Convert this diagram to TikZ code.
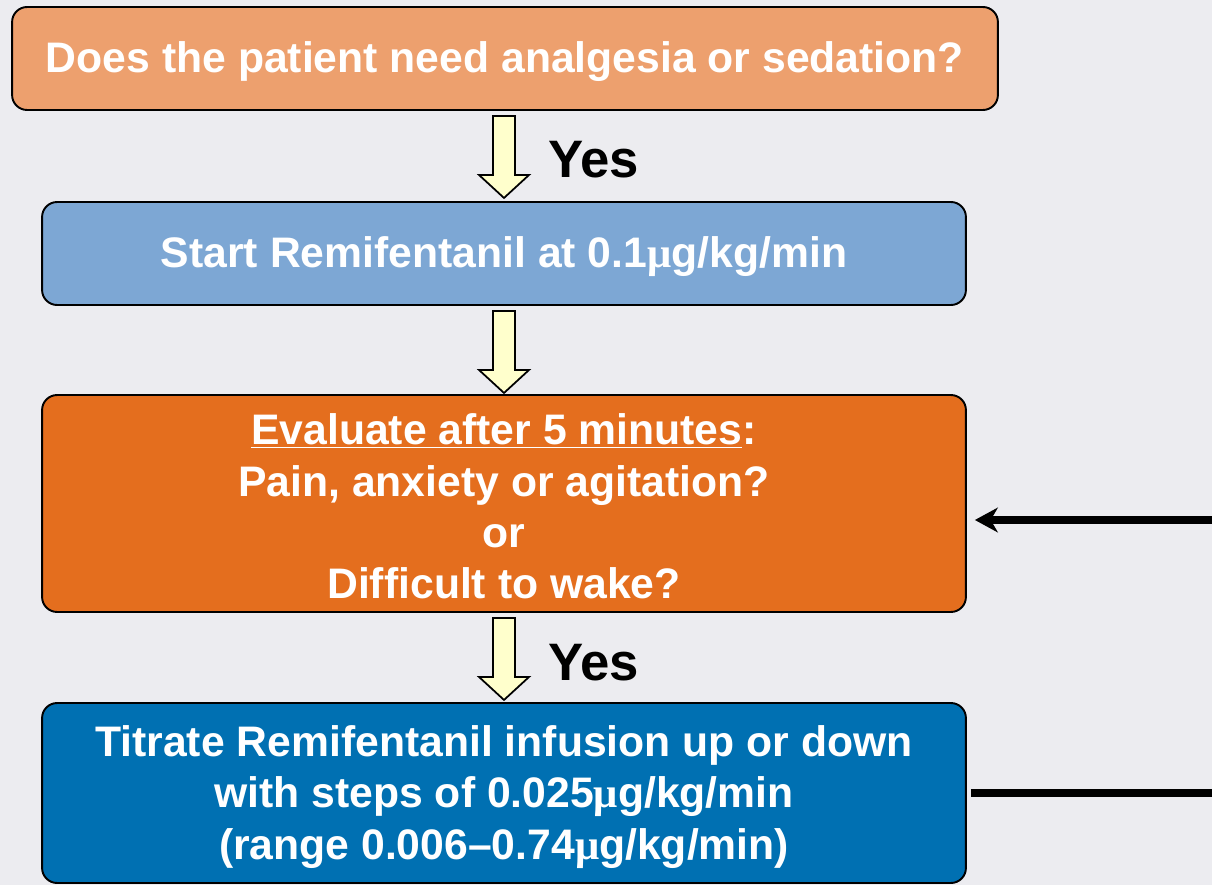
\documentclass[tikz,border=0pt]{standalone}
\usepackage{fontspec}
\setmainfont{Liberation Sans}
\newfontfamily\mufont{Liberation Serif}
\usetikzlibrary{arrows.meta,calc}
\definecolor{bgc}{HTML}{ECECF0}
\definecolor{boxA}{HTML}{EDA06E}
\definecolor{boxB}{HTML}{7DA7D4}
\definecolor{boxC}{HTML}{E46E1E}
\definecolor{boxD}{HTML}{0070B2}
\definecolor{arrfill}{HTML}{FFFFCC}
\newcommand{\ug}{{\mufont μ}g}
\tikzset{
  flowbox/.style={draw=black, line width=1.1pt, rounded corners=0.3cm, inner sep=0pt},
  boxtext/.style={text=white, font=\fontsize{24.3}{29.2}\selectfont\bfseries, align=center, inner sep=0pt},
  blockarrow/.style={draw=black, line width=1pt, fill=arrfill, line join=miter},
  yeslabel/.style={font=\fontsize{30}{36}\selectfont\bfseries, anchor=west, inner sep=0pt},
  loopline/.style={line width=4pt, draw=black}
}
\begin{document}
\begin{tikzpicture}[x=0.02cm, y=-0.02cm]
\fill[bgc] (0,0) rectangle (1212,885);
\useasboundingbox (0,0) rectangle (1212,885);

\node[flowbox, fill=boxA, minimum width=19.72cm, minimum height=2.06cm] (b1) at (505,58.5) {};
\node[flowbox, fill=boxB, minimum width=18.48cm, minimum height=2.06cm] (b2) at (504,253.5) {};
\node[flowbox, fill=boxC, minimum width=18.48cm, minimum height=4.34cm] (b3) at (504,503.5) {};
\node[flowbox, fill=boxD, minimum width=18.48cm, minimum height=3.6cm] (b4) at (504,793) {};

\node[boxtext] (t1) at ($(b1.center)+(0,3)$) {Does the patient need analgesia or sedation?};
\node[boxtext] (t2) at ($(b2.center)+(0,3)$) {Start Remifentanil at 0.1\ug/kg/min};
\node[boxtext] (t3) at ($(b3.center)+(0,3)$)
  {\underline{Evaluate after 5 minutes}:\\Pain, anxiety or agitation?\\or\\Difficult to wake?};
\node[boxtext] (t4) at ($(b4.center)+(0,4)$)
  {Titrate Remifentanil infusion up or down\\with steps of 0.025\ug/kg/min\\(range 0.006--0.74\ug/kg/min)};

% block arrows
\foreach \a/\b in {b1/b2, b2/b3, b3/b4}{
  \draw[blockarrow, shift={(\b.north |- \a.south)}]
    (-11,5) -- (11,5) -- (11,64) -- (25,64) -- (0,87) -- (-25,64) -- (-11,64) -- cycle;
}

\node[yeslabel] (y1) at (548,160) {Yes};
\node[yeslabel] (y2) at (548,663) {Yes};

% loop connectors
\coordinate (r1) at (1212,520);
\coordinate (r2) at (1212,793);
\draw[loopline, -{Stealth[length=13pt,width=14pt,inset=4pt]}] (r1) -- ($(b3.east |- r1)+(8,0)$);
\draw[loopline] ($(b4.east |- r2)+(4,0)$) -- (r2);
\end{tikzpicture}
\end{document}
